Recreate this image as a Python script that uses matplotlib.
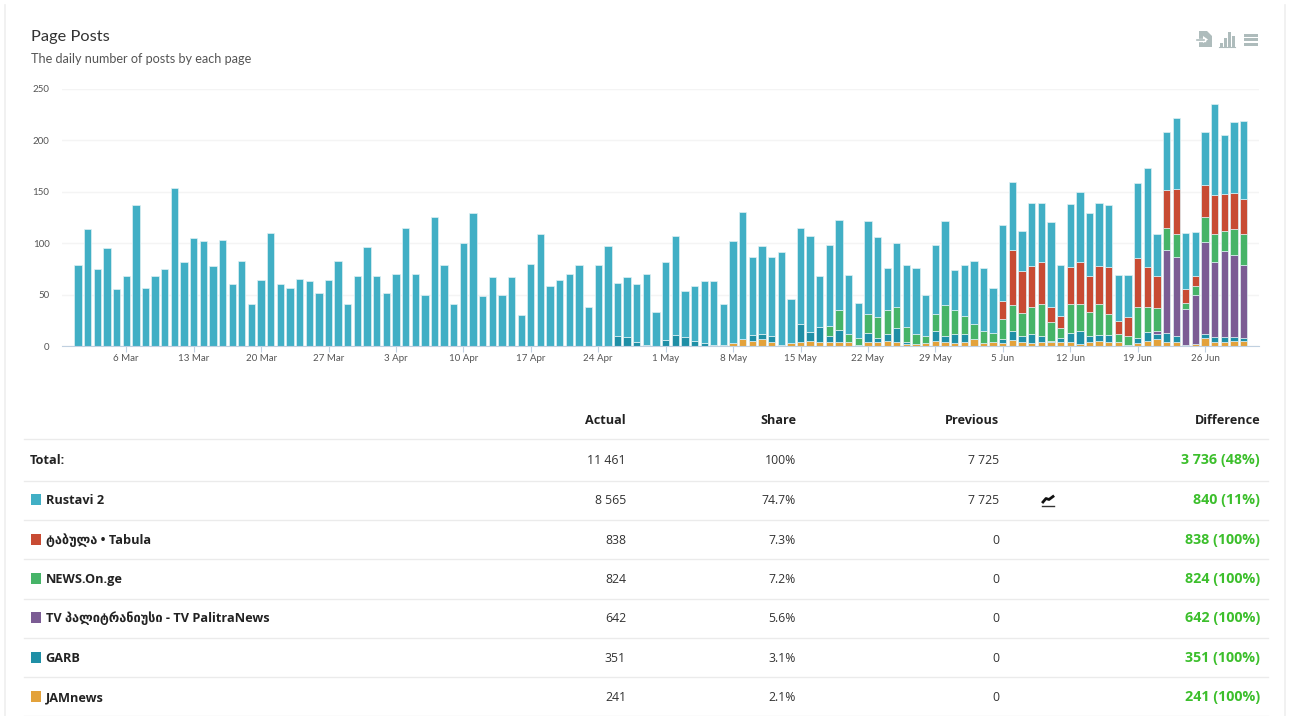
import matplotlib.pyplot as plt
from matplotlib.patches import Polygon, Rectangle

plt.rcParams["font.family"] = ["Open Sans", "DejaVu Sans"]

# daily posts, 1 Mar - 30 Jun
rustavi = [
    79, 114, 75, 95, 55, 68, 137, 56, 68, 75, 153, 82, 105, 102, 78, 103, 60, 83, 41, 64,
    110, 60, 56, 65, 63, 51, 64, 83, 41, 68, 96, 68, 51, 70, 115, 70, 50, 125, 79, 41,
    100, 129, 49, 67, 50, 67, 30, 80, 109, 58, 64, 70, 79, 38, 79, 97, 51, 58, 56, 69,
    33, 76, 96, 44, 53, 60, 62, 40, 99, 123, 75, 85, 76, 90, 43, 94, 93, 50, 79, 87,
    57, 34, 90, 78, 41, 62, 61, 64, 40, 67, 81, 39, 50, 62, 61, 43, 73, 66, 39, 61,
    57, 82, 50, 61, 68, 61, 61, 60, 45, 41, 73, 96, 41, 57, 69, 55, 43, 52, 88, 57,
    68, 75,
]
tabula = [0] * 96 + [
    18, 53, 41, 40, 41, 15, 12, 36, 41, 35, 37, 46, 12, 18, 47, 39, 31, 36, 43, 13,
    10, 31, 38, 36, 35, 34,
]
news_on = [0] * 78 + [
    9, 19, 8, 7, 18, 20, 23, 21, 14, 10, 7, 16, 30, 23, 17, 14, 12, 9, 19, 25,
    22, 26, 31, 18, 9, 28, 26, 23, 30, 20, 8, 9, 30, 24, 22, 22, 23, 6, 8, 24,
    27, 20, 26, 30,
]
palitra = [0] * 112 + [3, 80, 76, 35, 48, 89, 73, 83, 79, 71]
garb = [0] * 56 + [
    10, 9, 4, 1, 0, 6, 11, 9, 5, 3, 0, 0, 0, 0, 6, 5, 6, 0, 0, 17,
    9, 14, 6, 12, 0, 0, 9, 4, 7, 13, 2, 0, 0, 10, 6, 9, 8, 0, 0, 0,
    4, 9, 6, 9, 6, 1, 4, 9, 13, 6, 6, 7, 0, 0, 5, 9, 5, 9, 6, 0,
    0, 4, 5, 5, 4, 3,
]
jamnews = [0] * 66 + [
    1, 1, 3, 7, 5, 7, 4, 1, 3, 4, 5, 4, 4, 4, 4, 1, 4, 4, 5, 4,
    2, 2, 3, 5, 4, 3, 4, 7, 3, 4, 3, 6, 4, 3, 4, 4, 4, 4, 2, 4,
    5, 4, 4, 1, 3, 5, 7, 4, 4, 1, 2, 8, 4, 4, 5, 5,
]

# bottom to top
series = [jamnews, garb, palitra, news_on, tabula, rustavi]
colors = ["#e3a23b", "#1f8fa6", "#7b5c94", "#46b468", "#c84b33", "#41afc5"]

tick_days = [5, 12, 19, 26, 33, 40, 47, 54, 61, 68, 75, 82, 89, 96, 103, 110, 117]
tick_labels = [
    "6 Mar", "13 Mar", "20 Mar", "27 Mar", "3 Apr", "10 Apr", "17 Apr", "24 Apr", "1 May",
    "8 May", "15 May", "22 May", "29 May", "5 Jun", "12 Jun", "19 Jun", "26 Jun",
]
y_ticks = [0, 50, 100, 150, 200, 250]

headers = ["Actual", "Share", "Previous", "Difference"]
names = [
    "Total:", "Rustavi 2", "ტაბულა • Tabula", "NEWS.On.ge",
    "TV პალიტრანიუსი - TV PalitraNews", "GARB", "JAMnews",
]
actual = ["11 461", "8 565", "838", "824", "642", "351", "241"]
share = ["100%", "74.7%", "7.3%", "7.2%", "5.6%", "3.1%", "2.1%"]
previous = ["7 725", "7 725", "0", "0", "0", "0", "0"]
difference = [
    "3 736 (48%)", "840 (11%)", "838 (100%)", "824 (100%)",
    "642 (100%)", "351 (100%)", "241 (100%)",
]
swatches = [None, "#41afc5", "#c84b33", "#46b468", "#7b5c94", "#1f8fa6", "#e3a23b"]

W, H = 1291, 716
fig = plt.figure(figsize=(W / 100, H / 100), dpi=100)

# overlay in pixel coordinates for the page furniture and the table
page = fig.add_axes([0, 0, 1, 1])
page.set_xlim(0, W)
page.set_ylim(H, 0)
page.axis("off")

page.text(31, 41, "Page Posts", fontsize=11.8, family=["Lato", "DejaVu Sans"], color="#333333", va="baseline")
page.text(31, 63, "The daily number of posts by each page", fontsize=9.1, family=["Lato", "DejaVu Sans"],
          color="#555555", va="baseline")

# card borders
page.plot([4.5, 4.5], [5, H], color="#efefef", lw=1.2)
page.plot([1285, 1285], [5, H], color="#efefef", lw=1.2)

# toolbar icons
icon = "#aebcbc"
page.add_patch(Polygon([(1199, 31), (1207, 31), (1212, 36), (1212, 47), (1199, 47)], color=icon, lw=0))
page.add_patch(Polygon([(1203, 36), (1208, 39.5), (1203, 43)], color="white", lw=0))
page.plot([1197, 1204], [39.5, 39.5], color="white", lw=2.4)
page.plot([1197, 1204], [39.5, 39.5], color=icon, lw=1.2)
for x, h in zip([1219.5, 1223.5, 1227.5, 1231.5], [4, 9, 15, 11]):
    page.add_patch(Rectangle((x, 46.5 - h), 3, h, color=icon, lw=0))
page.plot([1219, 1235], [46.5, 46.5], color=icon, lw=0.8)
for y in [33.5, 38, 42.5]:
    page.add_patch(Rectangle((1243.5, y), 14.5, 3, color=icon, lw=0))

# chart
ax = fig.add_axes([62 / W, 1 - 346 / H, (1259 - 62) / W, (346 - 88.5) / H])
bottom = [0] * len(rustavi)
for values, color in zip(series, colors):
    ax.bar(range(len(values)), values, bottom=bottom, width=0.76, color=color, edgecolor="#dff0f3", linewidth=0.5)
    bottom = [b + v for b, v in zip(bottom, values)]

ax.set_xlim(-1.67, 122.6)
ax.set_ylim(0, 250)
ax.set_yticks(y_ticks)
ax.set_xticks(tick_days)
ax.set_xticklabels(tick_labels)
ax.tick_params(axis="x", length=4, color="#c0d0e0", width=0.8, labelsize=7, labelcolor="#555555", pad=2)
ax.tick_params(axis="y", length=0, labelsize=7, labelcolor="#555555", pad=9)
for label in ax.get_xticklabels() + ax.get_yticklabels():
    label.set_family(["Lato", "DejaVu Sans"])
ax.grid(axis="y", color="#f4f4f4", lw=1)
ax.set_axisbelow(True)
ax.patch.set_alpha(0)
for side in ["top", "right", "left"]:
    ax.spines[side].set_visible(False)
ax.spines["bottom"].set_color("#c0d0e0")
ax.spines["bottom"].set_linewidth(0.8)

# table
right_edges = [626, 796, 999, 1260]
for x, text in zip(right_edges, headers):
    page.text(x, 424, text, ha="right", va="baseline", fontsize=9.1, fontweight="bold", color="#222222")
for y in [439, 480.5, 520, 559, 598.5, 638, 677, 715.5]:
    page.plot([24, 1268], [y, y], color="#ebebeb", lw=1)

row_y = [464, 504, 544, 583, 622, 662, 701]
for i, y in enumerate(row_y):
    name_x = 30 if swatches[i] is None else 45.5
    page.text(name_x, y, names[i], va="baseline", fontsize=9.2, fontweight="bold", color="#222222")
    if swatches[i] is not None:
        page.add_patch(Rectangle((30.7, y - 10.5), 10.3, 11, color=swatches[i], lw=0))
    page.text(right_edges[0], y, actual[i], ha="right", va="baseline", fontsize=8.8, color="#333333")
    page.text(right_edges[1], y, share[i], ha="right", va="baseline", fontsize=8.8, color="#333333")
    page.text(right_edges[2], y, previous[i], ha="right", va="baseline", fontsize=8.8, color="#333333")
    page.text(right_edges[3], y, difference[i], ha="right", va="baseline", fontsize=10.3, fontweight="bold",
              color="#3cbf2c")

# small trend icon in the Rustavi row
page.plot([1043, 1046, 1049, 1053], [502, 498.5, 499.5, 496.5], color="#111111", lw=2)
page.plot([1042, 1054], [506, 506], color="#333333", lw=1)

fig.savefig("out.png", dpi=100, facecolor="white")
